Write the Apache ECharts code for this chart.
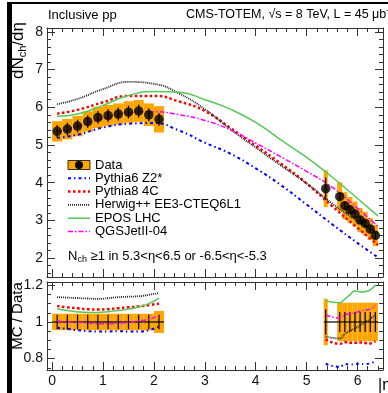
<!DOCTYPE html>
<html lang="en">
<head>
<meta charset="UTF-8">
<title>dNch/deta CMS-TOTEM</title>
<style>
  * { padding: 0; margin: 0; }
  body { background: #fff; }
</style>
<script src="https://cdn.jsdelivr.net/npm/echarts@6/dist/echarts.min.js"></script>
</head>
<body>
<div id="main" style="width:388px;height:393px;"></div>
<script>
// ---- data ----
// data points, central group |eta| < 2.2
var etaL  = [0.1, 0.3, 0.5, 0.7, 0.9, 1.1, 1.3, 1.5, 1.7, 1.9, 2.1];
var dataL = [5.36, 5.42, 5.50, 5.62, 5.73, 5.78, 5.82, 5.87, 5.90, 5.80, 5.68];
var sysL  = [0.27, 0.27, 0.27, 0.27, 0.28, 0.28, 0.28, 0.29, 0.29, 0.30, 0.35];
var statL = [0.17, 0.17, 0.17, 0.17, 0.17, 0.17, 0.17, 0.17, 0.17, 0.17, 0.17];
var hwL   = [0.1, 0.1, 0.1, 0.1, 0.1, 0.1, 0.1, 0.1, 0.1, 0.1, 0.1];

// data points, forward group (T2)
var etaR  = [5.375, 5.65, 5.75, 5.85, 5.95, 6.05, 6.15, 6.25, 6.35];
var dataR = [3.84, 3.63, 3.39, 3.28, 3.17, 3.01, 2.92, 2.77, 2.60];
var sysR  = [0.49, 0.38, 0.36, 0.34, 0.33, 0.32, 0.31, 0.29, 0.28];
var statR = [0.30, 0.10, 0.10, 0.10, 0.10, 0.10, 0.10, 0.10, 0.10];
var hwR   = [0.04, 0.05, 0.05, 0.05, 0.05, 0.05, 0.05, 0.05, 0.05];

// MC predictions (top panel)
var mcEta   = [0.1, 0.5, 1.0, 1.5, 2.0, 2.5, 3.0, 3.5, 4.0, 4.5, 5.0, 5.5, 6.0, 6.4];
var pythia6 = [5.19, 5.27, 5.46, 5.56, 5.58, 5.38, 5.06, 4.77, 4.38, 3.93, 3.42, 2.90, 2.40, 2.02];
var pythia8 = [5.83, 5.93, 6.13, 6.30, 6.30, 6.15, 5.90, 5.45, 4.98, 4.50, 3.98, 3.38, 2.80, 2.35];
var herwig  = [6.08, 6.22, 6.48, 6.67, 6.62, 6.36, 5.95, 5.42, 4.93, 4.45, 3.98, 3.45, 2.98, 2.68];
var epos    = [5.76, 5.82, 6.05, 6.31, 6.42, 6.40, 6.20, 5.95, 5.60, 5.13, 4.67, 4.15, 3.58, 3.12];
var qgsjet  = [5.34, 5.49, 5.70, 5.85, 5.88, 5.80, 5.65, 5.40, 5.05, 4.68, 4.30, 3.88, 3.32, 2.84];

// MC / Data (bottom panel)
var rPythia6L = [0.968, 0.962, 0.955, 0.950, 0.948, 0.948, 0.950, 0.948, 0.948, 0.955, 0.975];
var rPythia8L = [1.087, 1.080, 1.075, 1.070, 1.068, 1.070, 1.075, 1.080, 1.085, 1.092, 1.100];
var rHerwigL  = [1.135, 1.133, 1.130, 1.128, 1.126, 1.130, 1.135, 1.138, 1.140, 1.148, 1.158];
var rEposL    = [1.072, 1.062, 1.055, 1.052, 1.052, 1.056, 1.062, 1.070, 1.082, 1.100, 1.130];
var rQgsjetL  = [1.005, 1.000, 0.998, 0.995, 0.990, 0.990, 0.993, 0.998, 1.005, 1.015, 1.035];
var rPythia6R = [0.772, 0.755, 0.770, 0.768, 0.770, 0.772, 0.770, 0.775, 0.785];
var rPythia8R = [0.905, 0.880, 0.890, 0.887, 0.886, 0.888, 0.885, 0.883, 0.895];
var rHerwigR  = [0.920, 0.910, 0.935, 0.950, 0.965, 0.980, 1.000, 1.015, 1.040];
var rEposR    = [1.115, 1.105, 1.125, 1.148, 1.170, 1.163, 1.165, 1.175, 1.200];
var rQgsjetR  = [1.038, 1.022, 1.040, 1.045, 1.050, 1.060, 1.065, 1.070, 1.093];

var rSysL  = [0.045, 0.045, 0.045, 0.045, 0.045, 0.045, 0.045, 0.045, 0.045, 0.045, 0.06];
var rStatL = [0.04, 0.04, 0.04, 0.04, 0.04, 0.04, 0.04, 0.04, 0.04, 0.04, 0.04];
var rSysR  = [0.127, 0.105, 0.105, 0.105, 0.105, 0.105, 0.105, 0.105, 0.105];
var rStatR = [0.07, 0.055, 0.055, 0.055, 0.055, 0.055, 0.055, 0.055, 0.055];
// horizontal extent of the ratio error bars
var rLoR = [5.34, 5.60, 5.70, 5.80, 5.90, 6.00, 6.10, 6.20, 6.30];
var rHiR = [5.60, 5.70, 5.80, 5.90, 6.00, 6.10, 6.20, 6.30, 6.40];

var legendNames = ['Data', 'Pythia6 Z2*', 'Pythia8 4C', 'Herwig++ EE3-CTEQ6L1', 'EPOS LHC', 'QGSJetII-04'];

// ---- helpers ----
var FONT = '"Liberation Sans", Arial, sans-serif';
var ORANGE = '#ffa500';
var mcStyle = {
  'Pythia6 Z2*':          { color: '#0000ff', width: 2,   type: [3, 3, 1.5, 3] },
  'Pythia8 4C':           { color: '#ff0000', width: 2.5, type: [2.5, 2.5] },
  'Herwig++ EE3-CTEQ6L1': { color: '#222222', width: 1.8, type: [1, 1] },
  'EPOS LHC':             { color: '#55c855', width: 1.5, type: 'solid' },
  'QGSJetII-04':          { color: '#ff00ff', width: 1.5, type: [5, 2, 1.5, 2] }
};

function zip(xs, ys) { return xs.map(function (x, i) { return [x, ys[i]]; }); }

function boxData(xs, ys, e, hw) {
  return xs.map(function (x, i) { return [x - hw[i], x + hw[i], ys[i] - e[i], ys[i] + e[i]]; });
}

function renderBox(params, api) {
  var p1 = api.coord([api.value(0), api.value(3)]);
  var p2 = api.coord([api.value(1), api.value(2)]);
  return {
    type: 'rect',
    shape: { x: p1[0], y: p1[1], width: p2[0] - p1[0], height: p2[1] - p1[1] },
    style: { fill: ORANGE }
  };
}

// [x, y, err, xlo, xhi]
function renderErr(params, api) {
  var x = api.value(0), y = api.value(1), e = api.value(2);
  var top = api.coord([x, y + e]);
  var bot = api.coord([x, y - e]);
  var kids = [{
    type: 'line', shape: { x1: top[0], y1: top[1], x2: bot[0], y2: bot[1] },
    style: { stroke: '#000', lineWidth: 1.2 }
  }];
  if (!isNaN(api.value(3))) {
    var a = api.coord([api.value(3), y]);
    var b = api.coord([api.value(4), y]);
    kids.push({ type: 'line', shape: { x1: a[0], y1: a[1], x2: b[0], y2: b[1] },
      style: { stroke: '#000', lineWidth: 1.2 } });
  }
  return { type: 'group', children: kids };
}

function axis(extra) {
  var base = {
    type: 'value',
    splitLine: { show: false },
    axisLine: { show: true, onZero: false, lineStyle: { color: '#333', width: 1 } },
    axisTick: { show: true, inside: true, length: 8, lineStyle: { color: '#333' } },
    minorTick: { show: true, splitNumber: 5, length: 4, lineStyle: { color: '#333' } },
    axisLabel: { show: false }
  };
  return Object.assign(base, extra);
}

var labelStyle = { show: true, color: '#111', fontSize: 14, fontFamily: FONT,
  showMinLabel: false, showMaxLabel: false };

function mcLine(name, data, xi, yi) {
  var s = mcStyle[name];
  return {
    name: name, type: 'line', xAxisIndex: xi, yAxisIndex: yi,
    data: data, smooth: true, showSymbol: false, symbol: 'none', z: 4,
    lineStyle: { color: s.color, width: s.width, type: s.type }, silent: true
  };
}

// ---- chart ----
var myChart = echarts.init(document.getElementById('main'), null, { renderer: 'canvas' });

var series = [];
// top panel
series.push({ type: 'custom', xAxisIndex: 0, yAxisIndex: 0, renderItem: renderBox, z: 2,
  encode: { x: [0, 1], y: [2, 3] }, data: boxData(etaL, dataL, sysL, hwL) });
series.push({ type: 'custom', xAxisIndex: 0, yAxisIndex: 0, renderItem: renderBox, z: 2,
  encode: { x: [0, 1], y: [2, 3] }, data: boxData(etaR, dataR, sysR, hwR) });
series.push(mcLine('Pythia6 Z2*', zip(mcEta, pythia6), 0, 0));
series.push(mcLine('Pythia8 4C', zip(mcEta, pythia8), 0, 0));
series.push(mcLine('Herwig++ EE3-CTEQ6L1', zip(mcEta, herwig), 0, 0));
series.push(mcLine('EPOS LHC', zip(mcEta, epos), 0, 0));
series.push(mcLine('QGSJetII-04', zip(mcEta, qgsjet), 0, 0));
series.push({ type: 'custom', xAxisIndex: 0, yAxisIndex: 0, renderItem: renderErr, z: 5,
  encode: { x: 0, y: 1 },
  data: etaL.map(function (x, i) { return [x, dataL[i], statL[i], NaN, NaN]; })
    .concat(etaR.map(function (x, i) { return [x, dataR[i], statR[i], NaN, NaN]; })) });
series.push({ type: 'scatter', xAxisIndex: 0, yAxisIndex: 0, symbolSize: 9.5, z: 6,
  itemStyle: { color: '#000' }, data: zip(etaL, dataL).concat(zip(etaR, dataR)) });

// ratio panel
var onesL = etaL.map(function () { return 1; });
var onesR = etaR.map(function () { return 1; });
series.push({ type: 'custom', xAxisIndex: 2, yAxisIndex: 2, renderItem: renderBox, z: 2,
  encode: { x: [0, 1], y: [2, 3] }, data: boxData(etaL, onesL, rSysL, hwL) });
series.push({ type: 'custom', xAxisIndex: 2, yAxisIndex: 2, renderItem: renderBox, z: 2,
  encode: { x: [0, 1], y: [2, 3] }, data: boxData(etaR, onesR, rSysR, hwR) });
series.push({ type: 'custom', xAxisIndex: 2, yAxisIndex: 2, renderItem: renderErr, z: 3,
  encode: { x: 0, y: 1 },
  data: etaL.map(function (x, i) { return [x, 1, rStatL[i], x - hwL[i], x + hwL[i]]; })
    .concat(etaR.map(function (x, i) { return [x, 1, rStatR[i], rLoR[i], rHiR[i]]; })) });
[
  ['Pythia6 Z2*', rPythia6L, rPythia6R],
  ['Pythia8 4C', rPythia8L, rPythia8R],
  ['Herwig++ EE3-CTEQ6L1', rHerwigL, rHerwigR],
  ['EPOS LHC', rEposL, rEposR],
  ['QGSJetII-04', rQgsjetL, rQgsjetR]
].forEach(function (r) {
  series.push(mcLine(r[0], zip(etaL, r[1]), 2, 2));
  series.push(mcLine(r[0], zip(etaR, r[2]), 2, 2));
});

// legend + texts
var graphics = [
  { type: 'rect', shape: { x: 7, y: 2, width: 5, height: 391 }, style: { fill: '#000' } },
  { type: 'rect', shape: { x: 7, y: 2, width: 381, height: 2 }, style: { fill: '#000' } },
  { type: 'text', x: 48, y: 15, style: { text: 'Inclusive pp', font: '13px ' + FONT,
    fill: '#000', verticalAlign: 'middle' } },
  { type: 'text', x: 186, y: 15, style: { text: 'CMS-TOTEM, \u221as = 8 TeV, L = 45 \u03bcb\u207b\u00b9',
    font: '12.5px ' + FONT, fill: '#000', verticalAlign: 'middle' } },
  { type: 'text', x: 18, y: 22, rotation: Math.PI / 2, style: {
    text: '{a|dN}{s|ch}{a|/d\u03b7}', align: 'right', verticalAlign: 'middle', fill: '#000',
    rich: { a: { fontSize: 17, fontFamily: FONT, lineHeight: 20 },
            s: { fontSize: 11, fontFamily: FONT, lineHeight: 20, verticalAlign: 'bottom' } } } },
  { type: 'text', x: 18, y: 316, rotation: Math.PI / 2, style: {
    text: 'MC / Data', align: 'center', verticalAlign: 'middle', fill: '#000',
    font: '15px ' + FONT } },
  { type: 'text', x: 378, y: 386, style: { text: '|\u03b7|', font: '16px ' + FONT,
    fill: '#000', verticalAlign: 'middle' } },
  { type: 'text', x: 68, y: 256, style: {
    text: '{a|N}{s|ch}{a| \u22651 in 5.3<\u03b7<6.5 or -6.5<\u03b7<-5.3}', verticalAlign: 'middle',
    fill: '#000',
    rich: { a: { fontSize: 13, fontFamily: FONT, lineHeight: 16 },
            s: { fontSize: 9, fontFamily: FONT, lineHeight: 16, verticalAlign: 'bottom' } } } }
];

var legY0 = 165, legStep = 13.3;
graphics.push({ type: 'rect', shape: { x: 68, y: legY0 - 4.5, width: 22, height: 9 },
  style: { fill: ORANGE, stroke: '#000', lineWidth: 0.8 } });
graphics.push({ type: 'circle', shape: { cx: 79, cy: legY0, r: 4 }, style: { fill: '#000' } });
legendNames.forEach(function (name, i) {
  var y = legY0 + i * legStep;
  if (i > 0) {
    var s = mcStyle[name];
    graphics.push({ type: 'line', shape: { x1: 68, y1: y, x2: 90, y2: y },
      style: { stroke: s.color, lineWidth: s.width, lineDash: s.type === 'solid' ? null : s.type } });
  }
  graphics.push({ type: 'text', x: 95, y: y, style: { text: name, font: '13px ' + FONT,
    fill: '#000', verticalAlign: 'middle' } });
});

var option = {
  animation: false,
  backgroundColor: '#fff',
  grid: [
    { left: 47, top: 28, width: 336, height: 249, outerBoundsMode: 'none', containLabel: false },
    { left: 47, top: 282, width: 336, height: 88, outerBoundsMode: 'none', containLabel: false }
  ],
  xAxis: [
    axis({ gridIndex: 0, position: 'bottom', min: -0.1, max: 6.5 }),
    axis({ gridIndex: 0, position: 'top', min: -0.1, max: 6.5 }),
    axis({ gridIndex: 1, position: 'bottom', min: -0.1, max: 6.5,
      axisLabel: Object.assign({ margin: 4 }, labelStyle) }),
    axis({ gridIndex: 1, position: 'top', min: -0.1, max: 6.5 })
  ],
  yAxis: [
    axis({ gridIndex: 0, position: 'left', min: 1.5, max: 8.1,
      axisLabel: Object.assign({ margin: 4 }, labelStyle) }),
    axis({ gridIndex: 0, position: 'right', min: 1.5, max: 8.1 }),
    axis({ gridIndex: 1, position: 'left', min: 0.738, max: 1.218, splitNumber: 3,
      minorTick: { show: true, splitNumber: 4, length: 4, lineStyle: { color: '#333' } },
      axisLabel: Object.assign({ margin: 4 }, labelStyle) }),
    axis({ gridIndex: 1, position: 'right', min: 0.738, max: 1.218, splitNumber: 3,
      minorTick: { show: true, splitNumber: 4, length: 4, lineStyle: { color: '#333' } } })
  ],
  series: series,
  graphic: graphics
};

myChart.setOption(option);
</script>
</body>
</html>
